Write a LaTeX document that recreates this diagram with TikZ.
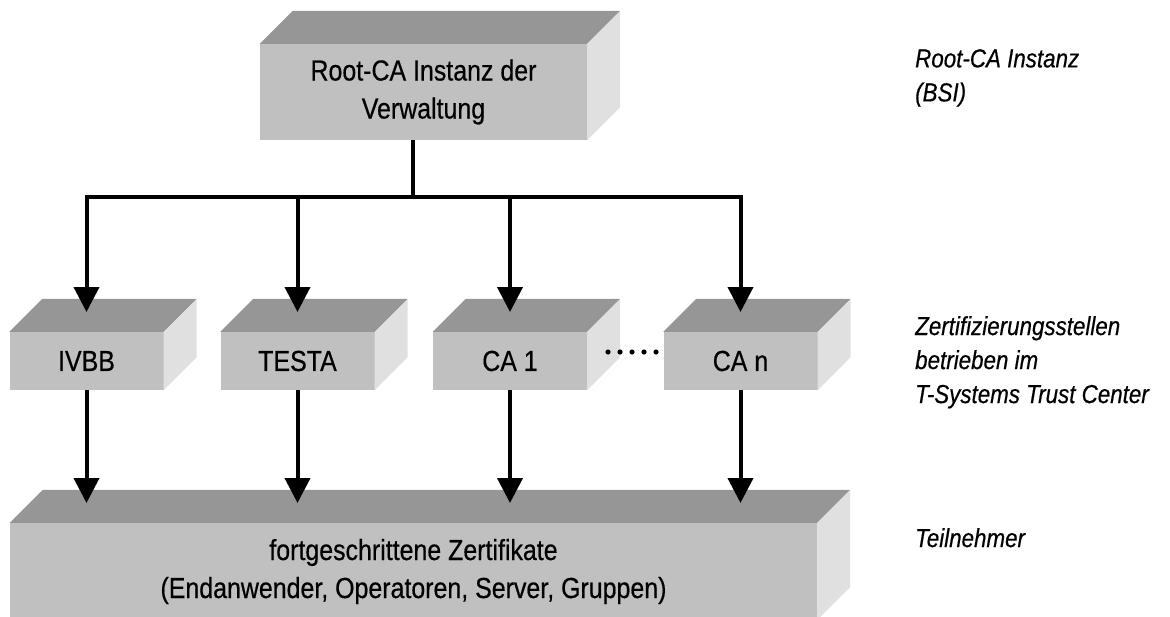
\documentclass[tikz,border=0pt]{standalone}
\usepackage{fontspec}
\setmainfont{Liberation Sans}[FakeStretch=0.86,FakeBold=0.5]
\usetikzlibrary{arrows.meta,calc}
\definecolor{topgray}{RGB}{150,150,150}
\definecolor{frontgray}{RGB}{192,192,192}
\definecolor{sidegray}{RGB}{224,224,224}
\newcommand\cubefaces[1]{%
  \fill[topgray] (#1.north west) -- ([shift={(33,-33)}]#1.north west) -- ([shift={(33,-33)}]#1.north east) -- (#1.north east) -- cycle;
  \fill[sidegray] (#1.north east) -- ([shift={(33,-33)}]#1.north east) -- ([shift={(33,-33)}]#1.south east) -- (#1.south east) -- cycle;}
\begin{document}
\begin{tikzpicture}[x=1pt,y=-1pt,
  face/.style={fill=frontgray, draw=none, inner sep=0pt, align=center, font=\fontsize{29}{38}\selectfont},
  midbox/.style={face, minimum width=154pt, minimum height=58pt},
  conn/.style={line width=4pt},
  arr/.style={line width=4pt, -{Triangle[length=25pt,width=25pt]}},
  lab/.style={anchor=north west, inner sep=0pt, align=left, font=\fontsize{26}{34}\selectfont\itshape}]
\useasboundingbox (0,0) rectangle (1170,616);

% boxes
\node[face, minimum width=327pt, minimum height=96pt] (root) at (423.5,92) {Root-CA Instanz der\\Verwaltung};
\cubefaces{root}
\node[midbox] (ivbb) at (86.5,361) {IVBB};
\cubefaces{ivbb}
\node[midbox] (testa) at (297.5,361) {TESTA};
\cubefaces{testa}
\node[midbox] (ca1) at (510,361) {CA 1};
\cubefaces{ca1}
\node[midbox] (can) at (740.5,361) {CA n};
\cubefaces{can}
\node[face, minimum width=807pt, minimum height=97pt] (base) at (413.5,571.5) {fortgeschrittene Zertifikate\\(Endanwender, Operatoren, Server, Gruppen)};
\cubefaces{base}

% dots
\foreach \i in {0,...,4} \fill (608+12*\i,352) circle (2.6pt);

% connectors
\coordinate (rs) at ([xshift=-10.5pt]root.south);
\coordinate (bus) at (413,197);
\coordinate (tin) at (0,312);
\coordinate (tout) at (0,503);
\draw[conn] (rs) -- (rs |- bus);
\draw[arr] (rs |- bus) -| (ivbb |- tin);
\draw[arr] (rs |- bus) -| (can |- tin);
\draw[arr] (testa |- bus) -- (testa |- tin);
\draw[arr] (ca1 |- bus) -- (ca1 |- tin);
\draw[arr] (ivbb.south) -- (ivbb |- tout);
\draw[arr] (testa.south) -- (testa |- tout);
\draw[arr] (ca1.south) -- (ca1 |- tout);
\draw[arr] (can.south) -- (can |- tout);

% labels
\node[lab] (l1) at (915,49) {Root-CA Instanz\\(BSI)};
\node[lab] (l2) at (915,316) {Zertifizierungsstellen\\betrieben im\\T-Systems Trust Center};
\node[lab] (l3) at (915,528) {Teilnehmer};
\end{tikzpicture}
\end{document}
